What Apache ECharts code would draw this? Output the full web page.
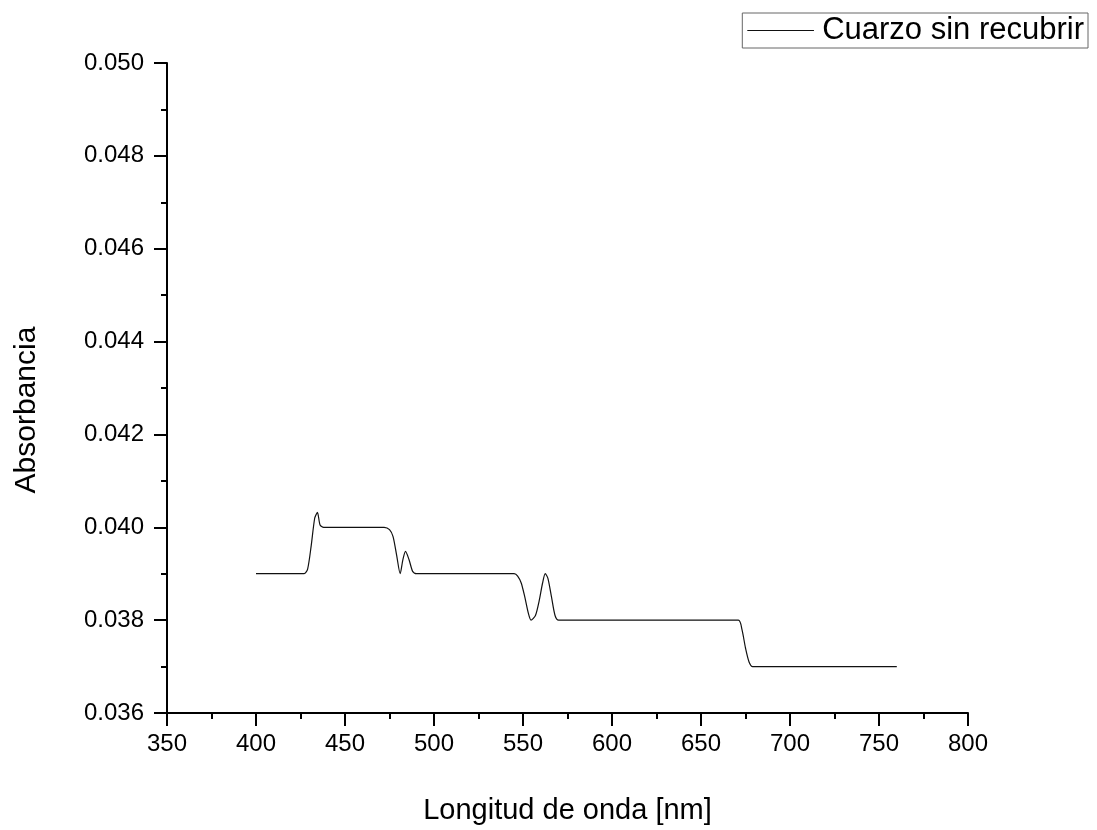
<!DOCTYPE html>
<html>
<head>
<meta charset="utf-8">
<script src="https://cdn.jsdelivr.net/npm/echarts@6/dist/echarts.min.js"></script>
<style>
  html, body { margin: 0; padding: 0; background: #fff; }
  #chart { width: 1097px; height: 830px; }
</style>
</head>
<body>
<div id="chart"></div>
<script>
// longitud de onda (nm)
var wavelength = [400, 427, 429, 431, 433, 434.5, 436, 438, 472, 475, 477, 479, 481, 482.5, 484, 486, 488, 490,
    545, 547, 549, 551, 553, 554.5, 557, 559, 561, 562.5, 564, 566, 568, 570, 671, 673, 675, 677, 679, 760];
// absorbancia
var absorbance = [0.0390, 0.0390, 0.0391, 0.0396, 0.0402, 0.04032, 0.04005, 0.0400, 0.0400, 0.03995, 0.0398, 0.0394, 0.0390, 0.0393, 0.03948, 0.0393, 0.03905, 0.0390,
    0.0390, 0.03895, 0.0388, 0.0385, 0.03815, 0.0380, 0.0381, 0.0384, 0.0388, 0.0390, 0.0389, 0.0385, 0.0381, 0.0380, 0.0380, 0.0378, 0.0374, 0.0371, 0.0370, 0.0370];
var seriesName = 'Cuarzo sin recubrir';
var xTicks = [350, 800, 50];
var yTicks = [0.036, 0.050, 0.002];

var myChart = echarts.init(document.getElementById('chart'));

var _data = [];
for (var i = 0; i < wavelength.length; i++) {
    _data.push([wavelength[i], absorbance[i]]);
}

var _font = 'Liberation Sans, Arial, sans-serif';
var _axisLine = { show: true, onZero: false, lineStyle: { color: '#000', width: 2 } };

var option = {
    backgroundColor: '#fff',
    animation: false,
    grid: {
        left: 167,
        right: 129,
        top: 63,
        bottom: 117
    },
    legend: {
        right: 9,
        top: 13,
        data: [seriesName],
        icon: 'path://M0,0 L100,0 L100,1.5 L0,1.5 Z',
        itemWidth: 69,
        itemHeight: 1,
        itemGap: 10,
        padding: [2, 4, 2, 5],
        borderColor: '#666',
        borderWidth: 1,
        borderRadius: 0,
        textStyle: { color: '#000', fontSize: 31, fontFamily: _font, padding: [0, 0, 0, 2] }
    },
    xAxis: {
        type: 'value',
        min: xTicks[0],
        max: xTicks[1],
        interval: xTicks[2],
        name: 'Longitud de onda [nm]',
        nameLocation: 'middle',
        nameGap: 83,
        nameTextStyle: { color: '#000', fontSize: 29, fontFamily: _font },
        axisLine: _axisLine,
        axisTick: { show: true, inside: false, length: 13, lineStyle: { color: '#000', width: 2 } },
        minorTick: { show: true, splitNumber: 2, length: 6, lineStyle: { color: '#000', width: 2 } },
        axisLabel: { color: '#000', fontSize: 24, fontFamily: _font, margin: 19, showMinLabel: true, showMaxLabel: true },
        splitLine: { show: false }
    },
    yAxis: {
        type: 'value',
        min: yTicks[0],
        max: yTicks[1],
        interval: yTicks[2],
        name: 'Absorbancia',
        nameLocation: 'middle',
        nameGap: 125,
        nameTextStyle: { color: '#000', fontSize: 30, fontFamily: _font, padding: [0, 44, 0, 0] },
        axisLine: _axisLine,
        axisTick: { show: true, inside: false, length: 13, lineStyle: { color: '#000', width: 2 } },
        minorTick: { show: true, splitNumber: 2, length: 6, lineStyle: { color: '#000', width: 2 } },
        axisLabel: {
            color: '#000', fontSize: 24, fontFamily: _font, margin: 23,
            formatter: function (v) { return v.toFixed(3); }
        },
        splitLine: { show: false }
    },
    series: [{
        type: 'line',
        name: seriesName,
        data: _data,
        symbol: 'none',
        smooth: 0.25,
        lineStyle: { color: '#111', width: 1.2 },
        itemStyle: { color: '#111' }
    }]
};

myChart.setOption(option);
</script>
</body>
</html>
